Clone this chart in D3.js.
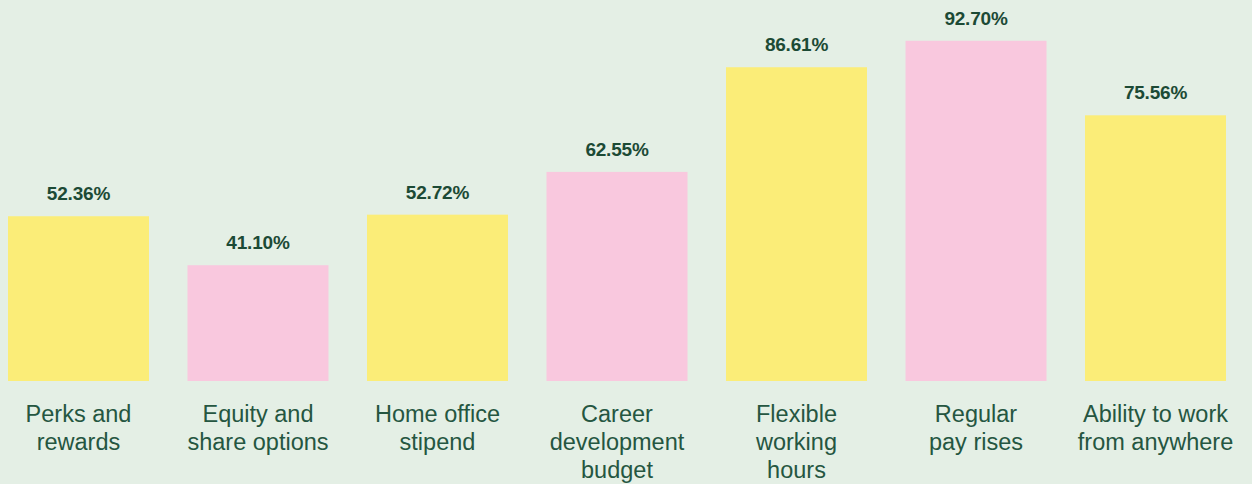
<!DOCTYPE html>
<html>
<head>
<meta charset="utf-8">
<script src="https://cdn.jsdelivr.net/npm/d3@7"></script>
<style>
  html, body { margin: 0; padding: 0; background: #e4efe5; }
  svg { display: block; }
</style>
</head>
<body>
<div id="chart"></div>
<script>
var categories = [
  "Perks and\nrewards",
  "Equity and\nshare options",
  "Home office\nstipend",
  "Career\ndevelopment\nbudget",
  "Flexible\nworking\nhours",
  "Regular\npay rises",
  "Ability to work\nfrom anywhere"
]
var values = [52.36, 41.10, 52.72, 62.55, 86.61, 92.70, 75.56]
var colors = ["#fbed78", "#f9c8de"]

var width = 1252,
    height = 484,
    baseline = 381

var svg = d3.select("#chart").append("svg")
    .attr("width", width)
    .attr("height", height)

svg.append("rect")
    .attr("width", width)
    .attr("height", height)
    .attr("fill", "#e4efe5")

var x = d3.scaleBand()
    .domain(categories)
    .range([8, 1226])
    .paddingInner(0.2145)
    .paddingOuter(0)

var y = d3.scaleLinear()
    .domain([0, 100])
    .range([444, 9])

var bar = svg.selectAll(".bar")
    .data(values)
  .enter().append("g")
    .attr("class", "bar")

bar.append("rect")
    .attr("x", function(d, i){ return x(categories[i]) })
    .attr("y", function(d){ return y(d) })
    .attr("width", x.bandwidth())
    .attr("height", function(d){ return baseline - y(d) })
    .attr("fill", function(d, i){ return colors[i % 2] })

// value labels above each bar
bar.append("text")
    .attr("x", function(d, i){ return x(categories[i]) + x.bandwidth() / 2 })
    .attr("y", function(d){ return y(d) - 16 })
    .attr("text-anchor", "middle")
    .attr("font-family", "'Liberation Sans', Arial, sans-serif")
    .attr("font-weight", "bold")
    .attr("font-size", "19px")
    .attr("letter-spacing", "-0.2px")
    .attr("fill", "#1c4a35")
    .text(function(d){ return d.toFixed(2) + "%" })

// category labels under the bars
var label = svg.selectAll(".cat")
    .data(categories)
  .enter().append("text")
    .attr("class", "cat")
    .attr("text-anchor", "middle")
    .attr("font-family", "'Liberation Sans', Arial, sans-serif")
    .attr("font-size", "23.5px")
    .attr("fill", "#255641")

label.selectAll("tspan")
    .data(function(d){ return d.split("\n").map(function(s){ return {line: s, cat: d} }) })
  .enter().append("tspan")
    .attr("x", function(d){ return x(d.cat) + x.bandwidth() / 2 })
    .attr("y", function(d, i){ return 422 + i * 28 })
    .text(function(d){ return d.line })
</script>
</body>
</html>
